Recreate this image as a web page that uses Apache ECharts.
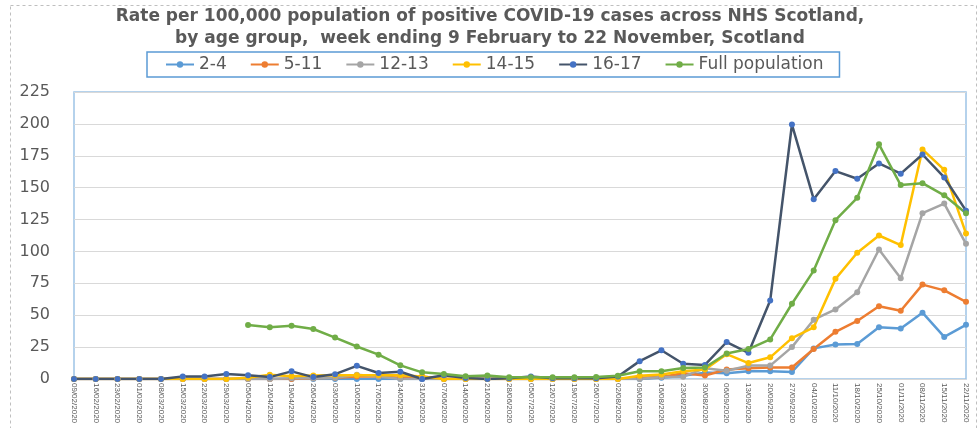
<!DOCTYPE html>
<html>
<head>
<meta charset="utf-8">
<script src="https://cdn.jsdelivr.net/npm/echarts@6/dist/echarts.min.js"></script>
<style>html,body{margin:0;padding:0;background:#fff}#c{width:979px;height:428px}</style>
</head>
<body>
<div id="c"></div>
<script>
const weeks = ["09/02/2020","16/02/2020","23/02/2020","01/03/2020","08/03/2020","15/03/2020","22/03/2020","29/03/2020","05/04/2020","12/04/2020","19/04/2020","26/04/2020","03/05/2020","10/05/2020","17/05/2020","24/05/2020","31/05/2020","07/06/2020","14/06/2020","21/06/2020","28/06/2020","05/07/2020","12/07/2020","19/07/2020","26/07/2020","02/08/2020","09/08/2020","16/08/2020","23/08/2020","30/08/2020","06/09/2020","13/09/2020","20/09/2020","27/09/2020","04/10/2020","11/10/2020","18/10/2020","25/10/2020","01/11/2020","08/11/2020","15/11/2020","22/11/2020"];
const age2to4 = [0,0,0,0,0,0,0,0,0,0,0,0,0,0,0,0,0,0,0,0,0,0,0,0,0,0,0,1,2.6,5,4.5,6,6,5.5,24,27,27.5,40.5,39.5,52,33,42.5];
const age5to11 = [0,0,0,0,0,0,0,0,0,0,0,0.5,1,2,2,1,2,0,0,0,0,0,0,0,0,0,1,1.5,4.5,2.8,7.5,8.5,9,9,23.5,37,45.5,57,53.5,74,69.5,60.5];
const age12to13 = [0,0,0,0,0,0,0,0,0,0,0.5,0.5,1,3.4,2,0,0,0,0,0,0,0,0,0,0,0,0,1.5,1.8,8.5,6.5,10.5,10.5,25,46.5,54.5,68,101.5,79,130,137.5,106];
const age14to15 = [0,0,0,0,0,0,0,0,1,3.4,2.2,2.8,3,2.9,2.9,2.9,2,0,0,0,0,0,0,0,0,0,2.5,3.5,6,7.5,19.5,12.5,17,32,40.5,78.5,99,112.5,105,180,164,114];
const age16to17 = [0,0,0,0,0,2,2,4,3,1.5,6,1.5,3.8,10.3,4.7,5.7,0,3,0.8,0,0.5,2,0.5,0.5,0.5,2,14,22.5,12,11,29,20.5,61.5,199.5,141,163,157,169,161,176,158,132];
const fullPop = [null,null,null,null,null,null,null,null,42.4,40.5,41.8,39.2,32.5,25.5,19.1,10.7,5.2,3.9,2.1,2.8,1.3,1.3,1.3,1.3,1.5,2.6,6,6,8.6,9,20,23.5,31,59,85,124.5,142,184,152,153.5,144,130];

const chart = echarts.init(document.getElementById('c'), null, {renderer:'canvas'});
function s(name, data, lineColor, markColor) {
  return {
    name, type:'line', data,
    symbol:'circle', symbolSize:6, showSymbol:true,
    lineStyle:{color:lineColor, width:2.5},
    itemStyle:{color:markColor || lineColor},
    connectNulls:false, animation:false
  };
}
chart.setOption({
  animation:false,
  graphic:[{type:'rect', left:8, top:3, shape:{width:966, height:440},
    style:{fill:'none', stroke:'#BFBFBF', lineWidth:1, lineDash:[3,3]}}],
  title:{
    text:'Rate per 100,000 population of positive COVID-19 cases across NHS Scotland,\nby age group,  week ending 9 February to 22 November, Scotland',
    left:490, top:6, padding:0, textAlign:'center',
    textStyle:{fontFamily:'DejaVu Sans', fontSize:17, fontWeight:'bold', color:'#595959', lineHeight:22}
  },
  legend:{
    left:147, top:52,
    borderColor:'#5B9BD5', borderWidth:1.5, padding:[4,16,4,18],
    itemWidth:28, itemHeight:8, itemGap:23,
    textStyle:{fontFamily:'DejaVu Sans', fontSize:17, color:'#595959'},
    data:['2-4','5-11','12-13','14-15','16-17','Full population']
  },
  grid:{left:74, right:13, top:92, bottom:49, show:true, borderColor:'#9DC3E6', borderWidth:1.5, containLabel:false},
  xAxis:{
    type:'category', data:weeks, boundaryGap:false,
    axisLine:{show:false}, axisTick:{show:false},
    axisLabel:{rotate:-90, interval:0, fontFamily:'Liberation Sans', fontSize:8, color:'#595959', margin:4}
  },
  yAxis:{
    type:'value', min:0, max:225, interval:25,
    axisLine:{show:false}, axisTick:{show:false},
    splitLine:{lineStyle:{color:'#D9D9D9', width:1}},
    axisLabel:{fontFamily:'DejaVu Sans', fontSize:16, color:'#595959', margin:24}
  },
  series:[
    s('2-4', age2to4, '#5B9BD5'),
    s('5-11', age5to11, '#ED7D31'),
    s('12-13', age12to13, '#A5A5A5'),
    s('14-15', age14to15, '#FFC000'),
    s('16-17', age16to17, '#44546A', '#4472C4'),
    s('Full population', fullPop, '#70AD47')
  ]
});
</script>
</body>
</html>
